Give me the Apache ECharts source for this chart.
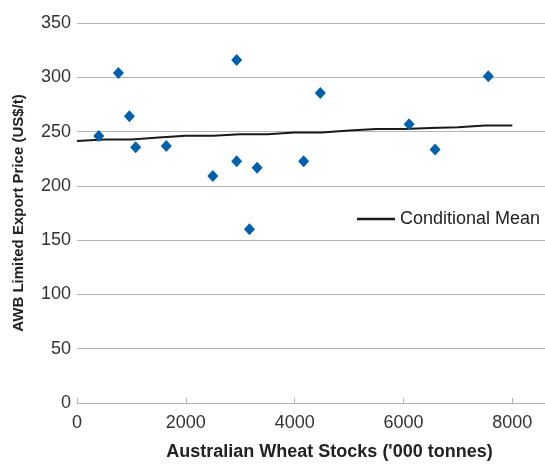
<!DOCTYPE html>
<html>
<head>
<meta charset="utf-8">
<script src="https://cdn.jsdelivr.net/npm/echarts@6/dist/echarts.min.js"></script>
<style>
html,body{margin:0;padding:0;background:#fff;}
#c{width:545px;height:466px;}
</style>
</head>
<body>
<div id="c"></div>
<script>
// Scatter observations
var stocks = [400, 761, 963, 1078, 1641, 2496, 2934, 2934, 3169, 3310, 4165, 4471, 6103, 6580, 7558];
var prices = [246, 304, 264, 235.5, 236.7, 209, 316, 222.7, 160, 216.7, 222.7, 285.5, 256.7, 233.6, 301];
// Conditional mean line
var meanX = [0, 500, 1000, 1500, 2000, 2500, 3000, 3500, 4000, 4500, 5000, 5500, 6000, 6500, 7000, 7500, 8000];
var meanY = [241.3, 242.7, 242.7, 244.5, 246.1, 246.1, 247.6, 247.6, 249.1, 249.1, 250.9, 252.3, 252.3, 253.3, 254, 255.5, 255.5];
var xTitle = "Australian Wheat Stocks ('000 tonnes)";
var yTitle = "AWB Limited Export Price (US$/t)";
var meanName = "Conditional Mean";

var scatterData = stocks.map(function (x, i) { return [x, prices[i]]; });
var lineData = meanX.map(function (x, i) { return [x, meanY[i]]; });

var font = "'Liberation Sans', Arial, sans-serif";
var chart = echarts.init(document.getElementById('c'), null, {renderer: 'canvas'});
chart.setOption({
  animation: false,
  backgroundColor: '#ffffff',
  textStyle: {fontFamily: font},
  grid: {left: 77, right: 0, top: 23, bottom: 58, containLabel: false},
  legend: {
    data: [{name: meanName, icon: 'rect'}],
    left: 357, top: 210,
    itemWidth: 38, itemHeight: 2.5, itemGap: 5,
    textStyle: {fontFamily: font, fontSize: 18, color: '#222', padding: [0, 0, 0, 0]},
    itemStyle: {color: '#1a1a1a'},
    padding: 0
  },
  xAxis: {
    type: 'value', min: 0, max: 8600, interval: 2000,
    name: xTitle, nameLocation: 'middle', nameGap: 40,
    nameTextStyle: {fontFamily: font, fontSize: 18, fontWeight: 'bold', color: '#222', padding: [0, 0, 0, 37]},
    axisLine: {show: true, lineStyle: {color: '#b4b4b4', width: 1}},
    axisTick: {show: true, inside: true, length: 5, lineStyle: {color: '#b4b4b4'}},
    axisLabel: {fontFamily: font, fontSize: 18, color: '#333', margin: 11, showMaxLabel: false,
      formatter: function (v) { return String(v); }},
    splitLine: {show: false}
  },
  yAxis: {
    type: 'value', min: 0, max: 350, interval: 50,
    name: yTitle, nameLocation: 'middle', nameGap: 51, nameRotate: 90,
    nameTextStyle: {fontFamily: font, fontSize: 15, fontWeight: 'bold', color: '#222'},
    axisLine: {show: false},
    axisTick: {show: false},
    axisLabel: {fontFamily: font, fontSize: 18, color: '#333', margin: 6},
    splitLine: {show: true, lineStyle: {color: '#b4b4b4', width: 1}}
  },
  series: [
    {
      name: 'Observations', type: 'scatter', data: scatterData,
      symbol: 'diamond', symbolSize: [11, 12],
      itemStyle: {color: '#0060ad', opacity: 1}, z: 3
    },
    {
      name: meanName, type: 'line', data: lineData,
      symbol: 'none', showSymbol: false,
      lineStyle: {color: '#1a1a1a', width: 2},
      itemStyle: {color: '#1a1a1a'}, z: 2
    }
  ]
});
</script>
</body>
</html>
